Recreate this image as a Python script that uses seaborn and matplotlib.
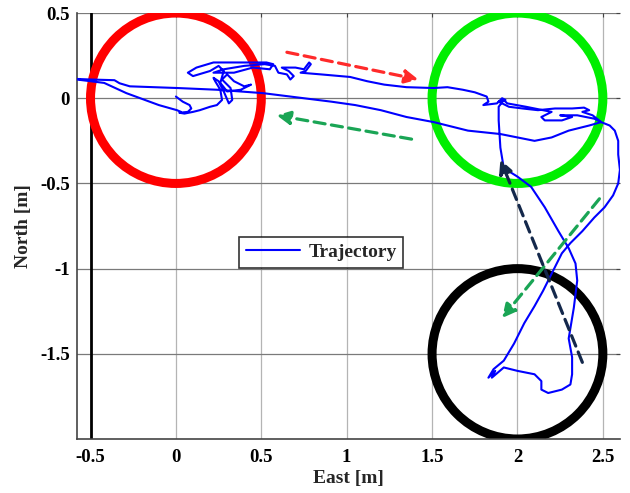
import numpy as np
import matplotlib
matplotlib.use("Agg")
import matplotlib.pyplot as plt
from matplotlib.patches import Circle
import seaborn as sns

# trajectory (east, north) in metres
traj_east = [
    0.00, 0.04, 0.08, 0.09, 0.07, 0.02, 0.05, 0.10, 0.14, 0.20, 0.24,
    0.27, 0.26, 0.23, 0.22, 0.25, 0.28, 0.31, 0.33, 0.32, 0.27, 0.30, 0.34, 0.40, 0.44, 0.38, 0.30, 0.26, 0.28, 0.25,
    0.20, 0.10, 0.07, 0.12, 0.22, 0.38, 0.53, 0.57, 0.55, 0.45, 0.34, 0.22, 0.28, 0.40, 0.52, 0.58,
    0.60, 0.65, 0.67, 0.69, 0.66, 0.62, 0.70, 0.75, 0.78, 0.79, 0.76, 0.73,
    0.85, 1.02, 1.12, 1.22, 1.35, 1.51, 1.59, 1.68, 1.75, 1.82, 1.83,
    1.80, 1.88, 1.91, 1.93, 1.89, 1.95, 2.03, 2.12, 2.22, 2.32, 2.39, 2.42, 2.38, 2.44, 2.49,
    2.54, 2.57, 2.59, 2.59, 2.60, 2.59, 2.56, 2.51, 2.45, 2.38, 2.31, 2.26, 2.20, 2.15, 2.10, 2.04, 1.98, 1.92, 1.86, 1.83, 1.85, 1.87, 1.85,
    1.92, 2.00, 2.10, 2.14, 2.14, 2.18, 2.26, 2.31, 2.32, 2.32, 2.30, 2.33, 2.35, 2.34, 2.30, 2.24, 2.16, 2.08, 2.00, 1.92, 1.90, 1.89, 1.89, 1.92, 1.94,
    2.05, 2.20, 2.14, 2.16, 2.26, 2.32, 2.25, 2.35, 2.45, 2.49,
    2.42, 2.30, 2.20, 2.10, 2.00, 1.90, 1.71, 1.51, 1.35, 1.20, 1.05, 0.91, 0.75, 0.51, 0.24, 0.01, -0.27, -0.33, -0.36, -0.50, -0.62,
    -0.50, -0.42, -0.29, -0.10, 0.006, 0.03,
]
traj_north = [
    0.01, -0.02, -0.04, -0.06, -0.08, -0.085, -0.09, -0.08, -0.07, -0.05, -0.04,
    -0.01, 0.05, 0.10, 0.12, 0.10, 0.04, -0.03, -0.01, 0.06, 0.11, 0.14, 0.10, 0.07, 0.08, 0.05, 0.04, 0.09, 0.16, 0.19,
    0.16, 0.13, 0.15, 0.18, 0.21, 0.21, 0.21, 0.20, 0.17, 0.18, 0.15, 0.15, 0.17, 0.19, 0.20, 0.19,
    0.15, 0.14, 0.11, 0.13, 0.16, 0.18, 0.18, 0.17, 0.21, 0.20, 0.16, 0.15,
    0.14, 0.125, 0.10, 0.08, 0.065, 0.06, 0.065, 0.05, 0.035, 0.01, -0.02,
    -0.04, -0.03, 0.00, -0.01, -0.02, -0.05, -0.06, -0.07, -0.06, -0.06, -0.055, -0.07, -0.08, -0.10, -0.14,
    -0.16, -0.19, -0.25, -0.33, -0.42, -0.50, -0.57, -0.64, -0.70, -0.78, -0.85, -0.91, -1.03, -1.13, -1.22, -1.32, -1.44, -1.54, -1.59, -1.64, -1.62, -1.60, -1.64,
    -1.58, -1.60, -1.62, -1.66, -1.71, -1.73, -1.71, -1.68, -1.62, -1.52, -1.41, -1.23, -1.07, -0.97, -0.88, -0.78, -0.64, -0.52, -0.46, -0.41, -0.29, -0.13, -0.05, -0.01, -0.03,
    -0.05, -0.08, -0.11, -0.13, -0.13, -0.11, -0.10, -0.10, -0.12, -0.14,
    -0.16, -0.19, -0.23, -0.25, -0.23, -0.21, -0.19, -0.14, -0.11, -0.07, -0.04, -0.02, 0.00, 0.03, 0.05, 0.06, 0.07, 0.088, 0.106, 0.11, 0.115,
    0.10, 0.09, 0.03, -0.04, -0.07, -0.08,
]

# target zones
zone_east = [0.0, 2.0, 2.0]
zone_north = [0.0, 0.0, -1.5]
zone_radius = [0.5, 0.5, 0.5]
zone_colors = ["#ff0000", "#00ee00", "#000000"]

# direction arrows: start -> end
arrow_start_east = [0.65, 1.38, 2.48, 2.38]
arrow_start_north = [0.27, -0.24, -0.59, -1.55]
arrow_end_east = [1.42, 0.59, 1.91, 1.90]
arrow_end_north = [0.11, -0.10, -1.29, -0.36]
arrow_colors = ["#ff2a2a", "#1aa555", "#1aa555", "#14284b"]

xtick_vals = [-0.5, 0, 0.5, 1, 1.5, 2, 2.5]
xtick_labels = ["-0.5", "0", "0.5", "1", "1.5", "2", "2.5"]
ytick_vals = [-1.5, -1, -0.5, 0, 0.5]
ytick_labels = ["-1.5", "-1", "-0.5", "0", "0.5"]

sns.set_style("white")
plt.rcParams["font.family"] = ["Liberation Serif", "DejaVu Serif"]
plt.rcParams["font.weight"] = "bold"

fig = plt.figure(figsize=(6.3, 4.93), dpi=100)
ax = fig.add_axes([0.122, 0.1095, 0.862, 0.864])

for xv in xtick_vals[1:]:
    ax.axvline(xv, color="#b4b4b4", lw=0.9, zorder=0)
for yv in ytick_vals:
    ax.axhline(yv, color="#7a7a7a", lw=0.9, zorder=0)
ax.axvline(-0.5, color="black", lw=2.0, zorder=1)

for cx, cy, r, c in zip(zone_east, zone_north, zone_radius, zone_colors):
    ax.add_patch(Circle((cx, cy), r, fill=False, edgecolor=c, lw=6.5, zorder=2))

sns.lineplot(x=traj_east, y=traj_north, sort=False, estimator=None, color="#0000ff",
             lw=1.5, label="Trajectory", ax=ax, zorder=4)

for x0, y0, x1, y1, c in zip(arrow_start_east, arrow_start_north, arrow_end_east, arrow_end_north, arrow_colors):
    ax.annotate("", xy=(x1, y1), xytext=(x0, y0),
                arrowprops=dict(arrowstyle="-|>,head_length=0.8,head_width=0.4", color=c,
                                lw=2.3, linestyle=(0, (3.5, 2)), shrinkA=0, shrinkB=0),
                zorder=5)

ax.set_xlim(-0.58, 2.6)
ax.set_ylim(-2.0, 0.5)
ax.set_xticks(xtick_vals)
ax.set_xticklabels(xtick_labels)
ax.set_yticks(ytick_vals)
ax.set_yticklabels(ytick_labels)
ax.tick_params(direction="in", length=3, width=0.8, labelsize=13.5, colors="#444444",
               labelcolor="black", top=True, right=True)
ax.tick_params(axis="x", pad=7)
ax.tick_params(axis="y", pad=5)
for lab in ax.get_xticklabels() + ax.get_yticklabels():
    lab.set_fontweight("bold")

for side in ["left", "bottom"]:
    ax.spines[side].set_color("#444444")
    ax.spines[side].set_linewidth(1.2)
ax.spines["top"].set_visible(False)
ax.spines["right"].set_visible(False)

ax.set_xlabel("East [m]", fontsize=14, fontweight="bold", labelpad=3)
ax.set_ylabel("North [m]", fontsize=14, fontweight="bold", labelpad=6)

leg = ax.legend(loc="center", bbox_to_anchor=(0.450, 0.438), fontsize=14,
                frameon=True, fancybox=False, edgecolor="black", handlelength=2.8,
                borderpad=0.35, handletextpad=0.4)
leg.get_frame().set_linewidth(1.2)
for t in leg.get_texts():
    t.set_fontweight("bold")

fig.savefig("out.png", dpi=100)
